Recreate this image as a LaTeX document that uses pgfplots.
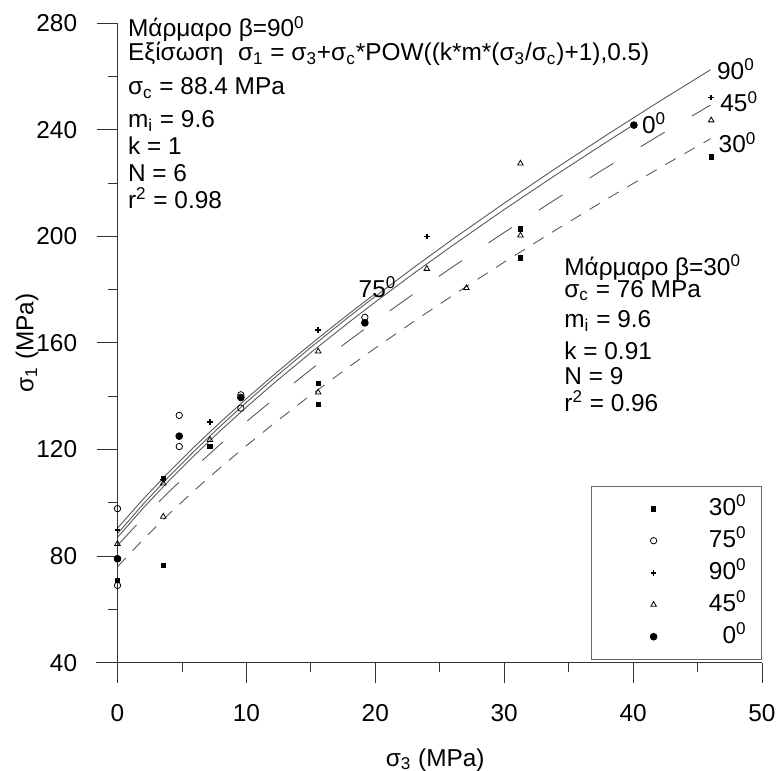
\documentclass[border=0pt]{standalone}
\usepackage{fontspec}
\setmainfont{Liberation Sans}
\usepackage{pgfplots}
\pgfplotsset{compat=1.18}
\newcommand{\sz}{\fontsize{12.2bp}{14.5bp}\selectfont}
\newcommand{\dg}{\textsuperscript{0}}
\begin{document}
\begin{tikzpicture}
\path[use as bounding box] (-58.75bp,-54.15bp) rectangle (330.25bp,331.35bp);
\begin{axis}[
  at={(0,0)}, anchor=south west,
  scale only axis, width=322.25bp, height=319.85bp,
  xmin=0, xmax=50, ymin=40, ymax=280,
  axis line style={draw=none},
  xtick pos=left, ytick pos=left,
  xtick={0,10,20,30,40,50}, ytick={40,80,120,160,200,240,280},
  minor xtick={5,15,25,35,45}, minor ytick={60,100,140,180,220,260},
  tick align=outside,
  major tick length=10bp, minor tick length=4.5bp,
  tick style={black!80, line width=0.4pt},
  /pgf/number format/assume math mode=true,
  tick label style={font=\sz, inner xsep=10bp, inner ysep=10.5bp},
  xlabel={σ\textsubscript{3} (MPa)},
  ylabel={σ\textsubscript{1} (MPa)},
  label style={font=\sz},
  xlabel style={at={([yshift=-51.75bp]axis description cs:0.493,0)}, anchor=base},
  ylabel style={at={([xshift=-42bp]axis description cs:0,0.5)}, anchor=base, rotate=0},
  clip=false,
  legend style={at={(1,0.2762)}, anchor=north east, draw=black!60, line width=0.4pt,
    inner xsep=7.5bp, inner ysep=5.8bp, row sep=5.3bp, column sep=0bp,
    font=\sz, nodes={text width=38.5bp, align=right, inner xsep=0bp, inner ysep=0bp, text height=8.7bp, text depth=2bp}},
  legend cell align=right,
  legend image code/.code={\path[draw=none,fill=none] (-23.5bp,-3bp) rectangle (8bp,3bp);
    \draw[mark repeat=2,mark phase=2,#1] plot coordinates {(-10bp,0bp)(0bp,0bp)(10bp,0bp)};},
]
% fitted curves
\addplot[forget plot, black!65, line width=0.45pt] coordinates {
(0,88.4)(2,99.53)(4,109.87)(6,119.61)(8,128.85)(10,137.68)(12,146.16)(15,158.33)(18,169.95)(20,177.44)(23,188.33)(26,198.86)(30,212.41)(34,225.49)(38,238.16)(42,250.46)(46,262.45)};
\addplot[forget plot, black!65, line width=0.45pt] coordinates {
(0,87)(2,98.05)(4,108.31)(6,117.96)(8,127.13)(10,135.89)(12,144.30)(15,156.37)(18,167.90)(20,175.32)(23,186.12)(26,196.56)(30,210.01)(34,222.98)(38,235.55)(40,241.70)};
\addplot[forget plot, black!65, line width=0.45pt] coordinates {
(0,90.5)(2,101.42)(4,111.60)(6,121.20)(8,130.32)(10,139.06)(12,147.46)(14,155.57)(16,163.43)(18,171.07)(20,178.50)};
\addplot[forget plot, black!65, line width=0.45pt, dash pattern=on 14bp off 16bp] coordinates {
(0,84)(2,94.44)(4,104.16)(6,113.34)(8,122.06)(10,130.41)(12,138.44)(15,149.98)(18,161.01)(20,168.12)(23,178.48)(26,188.50)(30,201.42)(34,213.89)(38,225.98)(42,237.74)(46,249.20)};
\addplot[forget plot, black!65, line width=0.45pt, dash pattern=on 6bp off 5bp] coordinates {
(0,76)(2,86.28)(4,95.82)(6,104.79)(8,113.30)(10,121.42)(12,129.23)(15,140.44)(18,151.14)(20,158.04)(23,168.07)(26,177.78)(30,190.29)(34,202.37)(38,214.08)(42,225.47)(46,236.57)};
% data
\addplot[only marks, mark=square*, mark size=1.1bp, black] coordinates {
(0,70.9)(3.55,109.2)(3.55,76.5)(7.17,121.1)(15.57,144.8)(15.57,136.8)(31.26,202.8)(31.26,191.9)(46.06,229.7)};
\addlegendentry{30\dg}
\addplot[only marks, mark=o, mark size=1.6bp, black, line width=0.4pt] coordinates {
(0,97.8)(0,69)(4.79,132.8)(4.79,121.1)(9.57,140.5)(9.57,135.5)(19.19,169.6)};
\addlegendentry{75\dg}
\addplot[only marks, mark=+, mark size=1.4bp, black, line width=0.8pt] coordinates {
(0,89.7)(3.55,108.8)(7.17,130.4)(15.57,164.8)(24.0,199.9)(46.06,252.1)};
\addlegendentry{90\dg}
\addplot[only marks, mark=triangle, mark size=1.6bp, black, line width=0.4pt] coordinates {
(0,84.6)(3.55,107.3)(3.55,94.8)(7.17,123.6)(15.57,156.8)(15.57,141.4)(24.0,187.8)(27.07,180.6)(31.26,227.3)(31.26,200.3)(46.06,243.5)};
\addlegendentry{45\dg}
\addplot[only marks, mark=*, mark size=1.7bp, black] coordinates {
(0,79)(4.79,125)(9.57,139.5)(19.19,167.5)(40.06,241.7)};
\addlegendentry{0\dg}
% axis lines
\draw[black!80, line width=0.4pt] ([xshift=-10.5bp]rel axis cs:0,0) -- (rel axis cs:1,0);
\draw[black!80, line width=0.4pt] ([yshift=-10bp]rel axis cs:0,0) -- (rel axis cs:0,1);
% text blocks
\begin{scope}[every node/.style={font=\sz, inner sep=0pt, anchor=base west}]
\node at (axis cs:0.79,274.8) {Μάρμαρο β=90\dg};
\node at (axis cs:0.79,265.8) {Εξίσωση\hspace{0.6em}σ\textsubscript{1} = σ\textsubscript{3}+σ\textsubscript{c}*POW((k*m*(σ\textsubscript{3}/σ\textsubscript{c})+1),0.5)};
\node at (axis cs:0.79,253.0) {σ\textsubscript{c} = 88.4 MPa};
\node at (axis cs:0.79,240.7) {m\textsubscript{i} = 9.6};
\node at (axis cs:0.79,230.5) {k = 1};
\node at (axis cs:0.79,220.5) {N = 6};
\node at (axis cs:0.79,210.5) {r\textsuperscript{2} = 0.98};
\node at (axis cs:34.64,185.4) {Μάρμαρο β=30\dg};
\node at (axis cs:34.64,177.1) {σ\textsubscript{c} = 76 MPa};
\node at (axis cs:34.64,165.7) {m\textsubscript{i} = 9.6};
\node at (axis cs:34.64,153.9) {k = 0.91};
\node at (axis cs:34.64,144.2) {N = 9};
\node at (axis cs:34.64,134.2) {r\textsuperscript{2} = 0.96};
\node at (axis cs:46.49,258.9) {90\dg};
\node at (axis cs:46.74,246.7) {45\dg};
\node at (axis cs:40.67,238.6) {0\dg};
\node at (axis cs:46.61,231.3) {30\dg};
\node at (axis cs:18.68,177.0) {75\dg};
\end{scope}
\end{axis}
\end{tikzpicture}
\end{document}
